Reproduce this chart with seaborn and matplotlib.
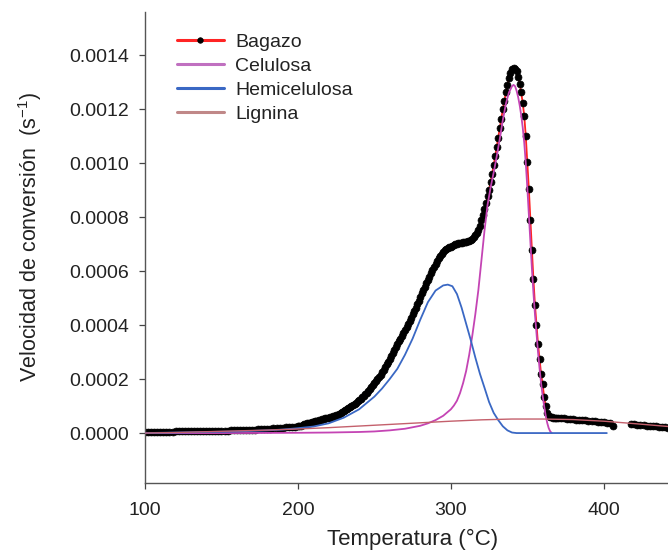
import numpy as np
import pandas as pd
import matplotlib
matplotlib.use("Agg")
import matplotlib.pyplot as plt
import seaborn as sns

# ---------------- data ----------------
# Bagazo: experimental points (black dots joined by red line)
bag_T_a = np.arange(100, 200, 2)
bag_v_a = [4.0e-6, 4.0e-6, 4.0e-6, 4.0e-6, 5.0e-6, 5.0e-6, 5.0e-6, 5.0e-6, 5.0e-6, 5.0e-6,
           6.0e-6, 6.0e-6, 6.0e-6, 6.0e-6, 6.0e-6, 6.0e-6, 7.0e-6, 7.0e-6, 7.0e-6, 7.0e-6,
           7.0e-6, 8.0e-6, 8.0e-6, 8.0e-6, 8.0e-6, 9.0e-6, 9.0e-6, 9.0e-6, 1.0e-5, 1.0e-5,
           1.0e-5, 1.1e-5, 1.1e-5, 1.2e-5, 1.2e-5, 1.3e-5, 1.3e-5, 1.4e-5, 1.4e-5, 1.5e-5,
           1.5e-5, 1.6e-5, 1.7e-5, 1.8e-5, 1.9e-5, 2.0e-5, 2.1e-5, 2.2e-5, 2.3e-5, 2.4e-5]
bag_T_b = np.arange(200, 300, 1)
bag_v_b = [2.50e-5, 2.65e-5, 2.80e-5, 3.00e-5, 3.20e-5, 3.40e-5, 3.60e-5, 3.75e-5, 3.90e-5, 4.05e-5,
           4.20e-5, 4.35e-5, 4.50e-5, 4.65e-5, 4.80e-5, 4.95e-5, 5.10e-5, 5.25e-5, 5.40e-5, 5.55e-5,
           5.70e-5, 5.85e-5, 6.00e-5, 6.20e-5, 6.40e-5, 6.60e-5, 6.80e-5, 7.10e-5, 7.40e-5, 7.70e-5,
           8.00e-5, 8.40e-5, 8.80e-5, 9.20e-5, 9.60e-5, 1.00e-4, 1.04e-4, 1.08e-4, 1.12e-4, 1.17e-4,
           1.22e-4, 1.27e-4, 1.32e-4, 1.37e-4, 1.43e-4, 1.49e-4, 1.56e-4, 1.63e-4, 1.70e-4, 1.77e-4,
           1.85e-4, 1.92e-4, 2.00e-4, 2.08e-4, 2.16e-4, 2.25e-4, 2.35e-4, 2.45e-4, 2.55e-4, 2.65e-4,
           2.75e-4, 2.85e-4, 2.96e-4, 3.07e-4, 3.18e-4, 3.29e-4, 3.40e-4, 3.50e-4, 3.60e-4, 3.71e-4,
           3.82e-4, 3.93e-4, 4.05e-4, 4.16e-4, 4.28e-4, 4.40e-4, 4.52e-4, 4.65e-4, 4.78e-4, 4.91e-4,
           5.05e-4, 5.18e-4, 5.30e-4, 5.43e-4, 5.55e-4, 5.68e-4, 5.80e-4, 5.93e-4, 6.05e-4, 6.17e-4,
           6.28e-4, 6.38e-4, 6.48e-4, 6.57e-4, 6.65e-4, 6.71e-4, 6.77e-4, 6.81e-4, 6.85e-4, 6.88e-4]
bag_T_c = np.arange(300, 371, 1)
bag_v_c = [6.90e-4, 6.93e-4, 6.96e-4, 6.99e-4, 7.02e-4, 7.04e-4, 7.05e-4, 7.06e-4, 7.07e-4, 7.08e-4,
           7.09e-4, 7.11e-4, 7.13e-4, 7.16e-4, 7.20e-4, 7.26e-4, 7.33e-4, 7.42e-4, 7.53e-4, 7.68e-4,
           7.88e-4, 8.08e-4, 8.30e-4, 8.53e-4, 8.77e-4, 9.02e-4, 9.30e-4, 9.60e-4, 9.92e-4, 1.025e-3,
           1.060e-3, 1.095e-3, 1.130e-3, 1.165e-3, 1.200e-3, 1.232e-3, 1.262e-3, 1.290e-3, 1.315e-3, 1.335e-3,
           1.347e-3, 1.352e-3, 1.348e-3, 1.340e-3, 1.320e-3, 1.295e-3, 1.262e-3, 1.222e-3, 1.175e-3, 1.100e-3,
           1.005e-3, 9.05e-4, 7.90e-4, 6.80e-4, 5.70e-4, 4.75e-4, 4.00e-4, 3.30e-4, 2.75e-4, 2.20e-4,
           1.80e-4, 1.35e-4, 1.00e-4, 7.5e-5, 6.3e-5, 6.0e-5, 5.8e-5, 5.7e-5, 5.7e-5, 5.6e-5,
           5.6e-5]
bag_T_d = np.arange(372, 408, 2)
bag_v_d = [5.5e-5, 5.4e-5, 5.3e-5, 5.2e-5, 5.1e-5, 5.0e-5, 4.9e-5, 4.8e-5, 4.7e-5, 4.6e-5,
           4.5e-5, 4.4e-5, 4.2e-5, 4.1e-5, 4.0e-5, 3.9e-5, 3.7e-5, 2.5e-5]
bag_T_e = np.arange(418, 446, 2)
bag_v_e = [3.3e-5, 3.2e-5, 3.1e-5, 3.0e-5, 2.9e-5, 2.8e-5, 2.7e-5, 2.6e-5, 2.5e-5, 2.3e-5,
           2.2e-5, 2.1e-5, 2.0e-5, 1.9e-5]

# Celulosa
cel_T = [100, 150, 200, 220, 240, 250, 260, 270, 280, 285, 290, 295, 300, 302, 304, 306, 308,
         310, 312, 314, 316, 318, 320, 322, 324, 326, 328, 330, 332, 334, 336, 338, 340,
         341, 342, 343, 344, 345, 346, 347, 348, 349, 350, 351, 352, 353, 354, 355, 356,
         357, 358, 359, 360, 361, 362, 363, 364, 365, 366]
cel_v = [0.0, 0.0, 1.0e-6, 2.0e-6, 4.0e-6, 6.0e-6, 1.0e-5, 1.6e-5, 2.7e-5, 3.6e-5, 4.8e-5, 6.4e-5,
         8.8e-5, 1.02e-4, 1.20e-4, 1.48e-4, 1.85e-4, 2.30e-4, 2.90e-4, 3.60e-4, 4.40e-4, 5.30e-4,
         6.40e-4, 7.50e-4, 8.45e-4, 9.10e-4, 9.65e-4, 1.025e-3, 1.090e-3, 1.160e-3, 1.220e-3,
         1.262e-3, 1.285e-3, 1.290e-3, 1.285e-3, 1.268e-3, 1.245e-3, 1.215e-3, 1.178e-3, 1.132e-3,
         1.075e-3, 1.000e-3, 9.10e-4, 8.10e-4, 7.10e-4, 6.10e-4, 5.20e-4, 4.40e-4, 3.70e-4,
         3.00e-4, 2.40e-4, 1.85e-4, 1.40e-4, 1.00e-4, 6.5e-5, 3.8e-5, 1.8e-5, 6.0e-6, 0.0]

# Hemicelulosa
hemi_T = [100, 120, 140, 160, 180, 190, 200, 210, 220, 230, 240, 250, 255, 260, 265, 270, 275,
          280, 285, 290, 295, 298, 301, 304, 307, 310, 313, 316, 319, 322, 325, 328, 331, 334,
          337, 340, 343, 360, 380, 402]
hemi_v = [0.0, 2.0e-6, 4.0e-6, 6.0e-6, 1.0e-5, 1.3e-5, 1.8e-5, 2.4e-5, 3.6e-5, 5.7e-5, 8.8e-5,
          1.35e-4, 1.65e-4, 2.00e-4, 2.38e-4, 2.90e-4, 3.50e-4, 4.20e-4, 4.85e-4, 5.28e-4, 5.47e-4,
          5.50e-4, 5.44e-4, 5.15e-4, 4.65e-4, 4.05e-4, 3.45e-4, 2.80e-4, 2.20e-4, 1.68e-4, 1.15e-4,
          7.5e-5, 4.8e-5, 2.5e-5, 1.0e-5, 2.0e-6, 0.0, 0.0, 0.0, 0.0]

# Lignina
lig_T = [100, 120, 140, 160, 180, 200, 220, 240, 260, 280, 300, 320, 340, 360, 380, 400, 420, 445]
lig_v = [0.0, 2.0e-6, 5.0e-6, 8.0e-6, 1.1e-5, 1.5e-5, 2.0e-5, 2.6e-5, 3.2e-5, 3.8e-5, 4.4e-5,
         4.9e-5, 5.2e-5, 5.2e-5, 5.0e-5, 4.4e-5, 3.5e-5, 2.3e-5]

x_ticks = [100, 200, 300, 400]
y_ticks = [0.0, 0.0002, 0.0004, 0.0006, 0.0008, 0.0010, 0.0012, 0.0014]

# ---------------- build tables ----------------
bag = pd.concat([
    pd.DataFrame({"T": np.concatenate([bag_T_a, bag_T_b, bag_T_c, bag_T_d]),
                  "v": bag_v_a + bag_v_b + bag_v_c + bag_v_d, "seg": 0}),
    pd.DataFrame({"T": bag_T_e, "v": bag_v_e, "seg": 1}),
], ignore_index=True)
cel = pd.DataFrame({"T": cel_T, "v": cel_v})
hemi = pd.DataFrame({"T": hemi_T, "v": hemi_v})
lig = pd.DataFrame({"T": lig_T, "v": lig_v})

# ---------------- plot ----------------
sns.set_style("ticks")
plt.rcParams["font.family"] = ["Liberation Sans", "DejaVu Sans"]
plt.rcParams["mathtext.fontset"] = "custom"
plt.rcParams["mathtext.rm"] = "Liberation Sans"
plt.rcParams["mathtext.it"] = "Liberation Sans"

fig = plt.figure(figsize=(6.68, 5.56), dpi=100)
ax = fig.add_axes([145 / 668, 1 - 483 / 556, 1 - 145 / 668, (483 - 12) / 556])

sns.lineplot(data=bag, x="T", y="v", units="seg", estimator=None, ax=ax,
             color="#ff2424", lw=1.3, marker="o", markersize=5.0,
             markerfacecolor="black", markeredgecolor="black", markeredgewidth=0.5,
             label="Bagazo", zorder=2, sort=False)
sns.lineplot(data=cel, x="T", y="v", ax=ax, color="#c444b4", lw=1.3,
             label="Celulosa", zorder=3, sort=False)
sns.lineplot(data=hemi, x="T", y="v", ax=ax, color="#3a68c4", lw=1.3,
             label="Hemicelulosa", zorder=3, sort=False)
sns.lineplot(data=lig, x="T", y="v", ax=ax, color="#c4606c", lw=1.0,
             label="Lignina", zorder=3, sort=False)

ax.set_xlim(100, 442)
ax.set_ylim(-0.000185, 0.00156)
ax.set_xticks(x_ticks)
ax.set_yticks(y_ticks)
ax.set_xticklabels([str(t) for t in x_ticks])
ax.set_yticklabels(["%.4f" % t for t in y_ticks])
ax.tick_params(axis="both", direction="out", length=4.5, width=0.9, colors="#444444",
               labelsize=14, labelcolor="#222222")
ax.tick_params(axis="x", pad=9)
ax.tick_params(axis="y", pad=7)
sns.despine(ax=ax)
for s in ("left", "bottom"):
    ax.spines[s].set_color("#555555")
    ax.spines[s].set_linewidth(1.0)

ax.set_xlabel("Temperatura (°C)", fontsize=16, color="#222222")
ax.set_ylabel("Velocidad de conversión  (s$^{-1}$)", fontsize=15.5, color="#222222")
ax.xaxis.set_label_coords((413 - 145) / 523, -(529 - 483) / 471)
ax.yaxis.set_label_coords(-(145 - 44) / 523, (483 - 237) / 471)

h, l = ax.get_legend_handles_labels()
uniq = {}
for hh, ll in zip(h, l):
    if ll not in uniq:
        uniq[ll] = hh
leg = ax.legend(list(uniq.values()), list(uniq.keys()), loc="upper left",
                bbox_to_anchor=(177 / 668, 1 - 33 / 556), bbox_transform=fig.transFigure,
                frameon=False, fontsize=14, handlelength=2.4, handletextpad=0.6,
                labelspacing=0.33, borderpad=0, borderaxespad=0)
for t in leg.get_texts():
    t.set_color("#222222")
for hnd in leg.legend_handles:
    hnd.set_linewidth(2.2)
leg.legend_handles[0].set_markersize(4.0)
leg.legend_handles[3].set_color("#c08888")
leg.legend_handles[1].set_color("#c070c0")

fig.savefig("out.png", dpi=100)
